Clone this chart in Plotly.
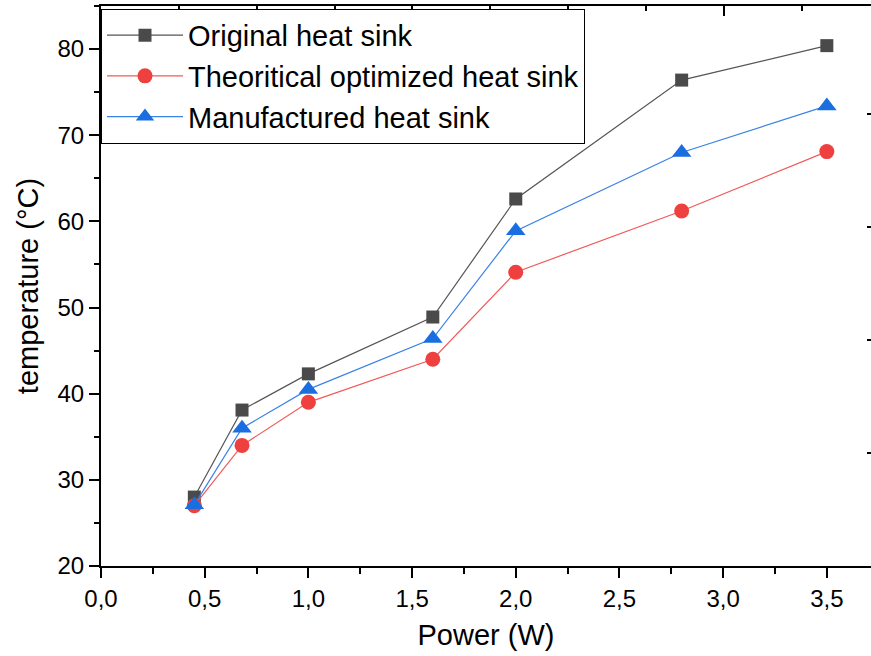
import plotly.graph_objects as go

power = [0.45, 0.68, 1.0, 1.6, 2.0, 2.8, 3.5]
original = [28.0, 38.1, 42.3, 48.9, 62.6, 76.4, 80.4]
theoretical = [27.0, 34.0, 39.0, 44.0, 54.1, 61.2, 68.1]
manufactured = [27.1, 36.0, 40.5, 46.4, 58.9, 68.0, 73.4]
names = ["Original heat sink", "Theoritical optimized heat sink", "Manufactured heat sink"]

FONT = "Liberation Sans, Arial, sans-serif"

fig = go.Figure()
fig.add_trace(go.Scatter(x=power, y=original, name=names[0], mode="lines+markers",
                         line=dict(color="#555555", width=1.2),
                         marker=dict(symbol="square", size=13, color="#4a4a4a")))
fig.add_trace(go.Scatter(x=power, y=theoretical, name=names[1], mode="lines+markers",
                         line=dict(color="#f05a5a", width=1.2),
                         marker=dict(symbol="circle", size=15, color="#ef4040")))
fig.add_trace(go.Scatter(x=power, y=manufactured, name=names[2], mode="lines+markers",
                         line=dict(color="#3a82e8", width=1.2),
                         marker=dict(symbol="triangle-up", size=17, color="#1a6ee0")))
# helper trace so the top/right frame axes are drawn
fig.add_trace(go.Scatter(x=[None], y=[None], xaxis="x2", yaxis="y2",
                         showlegend=False, hoverinfo="skip"))

fig.update_layout(
    width=871, height=656,
    margin=dict(l=101, r=0, t=6, b=90),
    paper_bgcolor="white", plot_bgcolor="white",
    separators=", ",
    font=dict(family=FONT, color="black"),
    showlegend=True,
    legend=dict(x=0, y=0.995, xanchor="left", yanchor="top",
                bgcolor="white", bordercolor="black", borderwidth=1,
                font=dict(size=29, family=FONT), itemwidth=76,
                tracegroupgap=0),
    xaxis=dict(range=[0, 3.713], dtick=0.5, tick0=0, tickformat=".1f",
               showgrid=False, zeroline=False, showline=True, linecolor="black", linewidth=2,
               ticks="outside", ticklen=10, tickwidth=2, tickcolor="black",
               minor=dict(dtick=0.25, ticks="outside", ticklen=6, tickwidth=2, tickcolor="black"),
               tickfont=dict(size=24), title=dict(text="Power (W)", font=dict(size=29), standoff=14)),
    yaxis=dict(range=[20, 85], dtick=10, tick0=20,
               showgrid=False, zeroline=False, showline=True, linecolor="black", linewidth=2,
               ticks="outside", ticklen=10, tickwidth=2, tickcolor="black",
               minor=dict(dtick=5, ticks="outside", ticklen=5, tickwidth=2, tickcolor="black"),
               tickfont=dict(size=24), title=dict(text="temperature (°C)", font=dict(size=29), standoff=10)),
    xaxis2=dict(overlaying="x", side="top", anchor="y", range=[0, 4.945], dtick=1, tick0=0,
                showticklabels=False, showgrid=False, zeroline=False,
                showline=True, linecolor="black", linewidth=2,
                ticks="inside", ticklen=10, tickwidth=2, tickcolor="black",
                minor=dict(dtick=0.5, ticks="inside", ticklen=5, tickwidth=2, tickcolor="black")),
    yaxis2=dict(overlaying="y", side="right", anchor="x", range=[0, 4.96], dtick=1, tick0=0,
                showticklabels=False, showgrid=False, zeroline=False, showline=False,
                ticks="inside", ticklen=4, tickwidth=2, tickcolor="black"),
)

fig.write_html("out.html")
